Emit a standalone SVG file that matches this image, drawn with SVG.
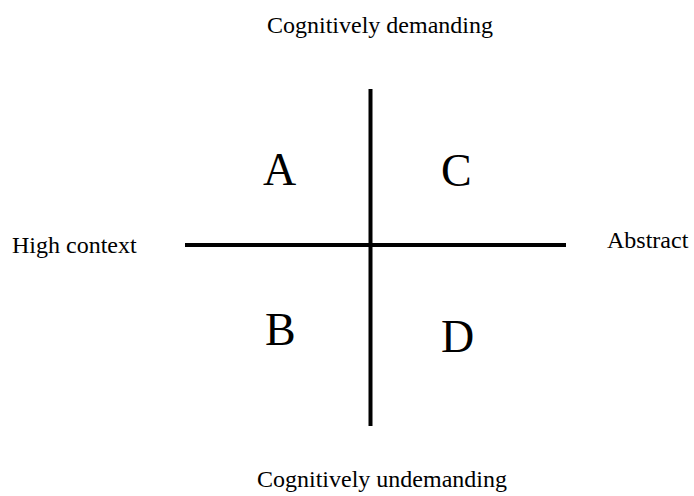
<svg xmlns="http://www.w3.org/2000/svg" width="694" height="496" viewBox="0 0 694 496">
<style>
.lbl{font-family:"Liberation Serif","Times New Roman",serif;font-size:24px;fill:#000}
.q{font-family:"Liberation Serif","Times New Roman",serif;font-size:46px;fill:#000}
.ax{stroke:#000;stroke-width:4;fill:none}
</style>
<rect width="694" height="496" fill="#fff"/>
<g id="connectors">
<line class="ax" x1="370.5" y1="89" x2="370.5" y2="426"/>
<line class="ax" x1="185" y1="245" x2="566" y2="245"/>
</g>
<g id="top"><text class="lbl" x="267" y="33">Cognitively demanding</text></g>
<g id="bottom"><text class="lbl" x="257" y="487">Cognitively undemanding</text></g>
<g id="left"><text class="lbl" x="12" y="253">High context</text></g>
<g id="right"><text class="lbl" x="607" y="248">Abstract</text></g>
<g id="qA"><text class="q" x="263" y="185">A</text></g>
<g id="qC"><text class="q" x="441" y="186">C</text></g>
<g id="qB"><text class="q" x="265" y="345">B</text></g>
<g id="qD"><text class="q" x="441" y="352">D</text></g>
</svg>
